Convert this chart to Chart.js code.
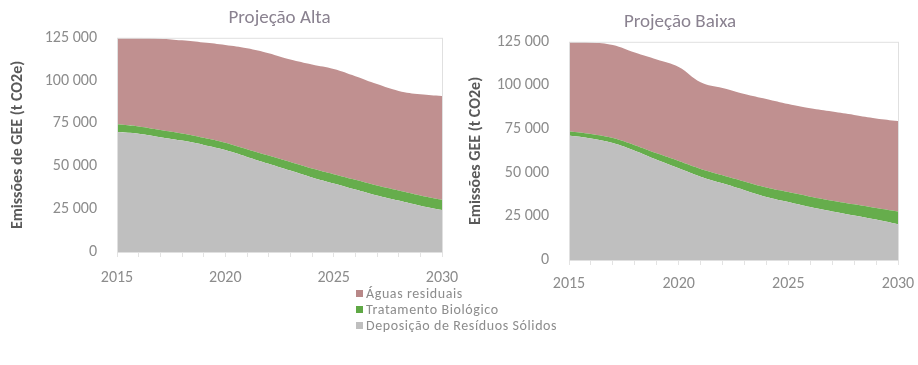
<!DOCTYPE html>
<html>
<head>
<meta charset="utf-8">
<script src="https://cdn.jsdelivr.net/npm/chart.js@4/dist/chart.umd.min.js"></script>
<style>
  body { margin: 0; background: #fff; font-family: Calibri, Carlito, "Liberation Sans", sans-serif; }
  #wrap { position: relative; width: 918px; height: 365px; overflow: hidden; }
  #cAlta { position: absolute; left: 0; top: 0; }
  #cBaixa { position: absolute; left: 455px; top: 4px; }
  #legend { position: absolute; left: 356px; top: 286px; font-size: 14px; letter-spacing: 0.6px; color: #8c8c8c; line-height: 16px; }
  #legend span.sw { display: inline-block; width: 7px; height: 7px; margin-right: 3px; vertical-align: 1px; }
</style>
</head>
<body>
<div id="wrap">
  <canvas id="cAlta" width="470" height="299"></canvas>
  <canvas id="cBaixa" width="463" height="305"></canvas>
  <div id="legend">
    <div><span class="sw" style="background:#b88888"></span>Águas residuais</div>
    <div><span class="sw" style="background:#5fa845"></span>Tratamento Biológico</div>
    <div><span class="sw" style="background:#bfbfbf"></span>Deposição de Resíduos Sólidos</div>
  </div>
</div>
<script>
// anos e séries (t CO2e)
const anos = ['2015','2016','2017','2018','2019','2020','2021','2022','2023','2024','2025','2026','2027','2028','2029','2030'];

const altaDeposicao = [70000, 69000, 67000, 65000, 62500, 59500, 55500, 51500, 47500, 43500, 40000, 36500, 33000, 30000, 27000, 24500];
const altaTratamento = [4500, 4300, 4200, 4200, 4200, 4300, 4500, 4800, 5000, 5200, 5400, 5600, 5800, 5900, 6000, 6000];
const altaAguas = [50500, 51700, 53300, 54300, 55500, 57000, 58900, 59700, 59800, 60700, 61400, 60500, 59200, 58100, 59000, 60500];

const baixaDeposicao = [71300, 69600, 67000, 62600, 57400, 52500, 47700, 43900, 40000, 36100, 33200, 30300, 27800, 25500, 23200, 20500];
const baixaTratamento = [2500, 2600, 2900, 3200, 3700, 4200, 4500, 4700, 5000, 5400, 5700, 6000, 6200, 6400, 6600, 7300];
const baixaAguas = [51200, 52400, 53200, 53000, 53700, 53800, 49600, 49900, 50100, 50700, 50400, 50600, 51000, 51200, 51300, 51800];

const yTicks = [0, 25000, 50000, 75000, 100000, 125000];

Chart.defaults.font.family = 'Calibri, Carlito, "Liberation Sans", sans-serif';

function fmt(v) {
    return String(v).replace(/\B(?=(\d{3})+(?!\d))/g, ' ');
}

// moldura cinza clara da área do gráfico
const frame = {
    id: 'frame',
    afterDraw(chart) {
        const a = chart.chartArea, c = chart.ctx;
        c.save();
        c.strokeStyle = '#e0e0e0';
        c.lineWidth = 1;
        c.strokeRect(a.left + 0.5, a.top + 0.5, a.right - a.left, a.bottom - a.top);
        c.restore();
    }
};

function renderArea(ctx, titulo, yTitulo, dep, trat, aguas, lay) {
    return new Chart(ctx, {
        type: 'line',
        data: {
            labels: anos,
            datasets: [
                { label: 'Deposição de Resíduos Sólidos', data: dep, backgroundColor: '#bfbfbf', fill: 'origin' },
                { label: 'Tratamento Biológico', data: trat, backgroundColor: '#66ad4c', fill: '-1' },
                { label: 'Águas residuais', data: aguas, backgroundColor: '#c09090', fill: '-1' }
            ]
        },
        options: {
            responsive: false,
            animation: false,
            elements: {
                point: { radius: 0 },
                line: { borderWidth: 0, tension: 0.4 }
            },
            layout: { padding: { left: lay.left, right: lay.right, top: 0, bottom: 0 } },
            plugins: {
                legend: { display: false },
                tooltip: { enabled: false },
                title: {
                    display: true,
                    text: titulo,
                    fullSize: lay.fullTitle,
                    color: '#8a8290',
                    font: { size: 19, weight: 'normal' },
                    padding: { top: 7, bottom: 8 }
                }
            },
            scales: {
                x: {
                    afterFit: function(s) { s.height = lay.xHeight; s.paddingLeft = 0; s.paddingRight = 0; },
                    ticks: {
                        autoSkip: false,
                        maxRotation: 0,
                        color: '#8c8c8c',
                        padding: lay.xPad,
                        font: { size: 16 },
                        callback: function(v, i) { return i % 5 === 0 ? anos[i] : ''; }
                    },
                    grid: { drawOnChartArea: false, color: '#e3e3e3', tickLength: 5 },
                    border: { color: '#d9d9d9' }
                },
                y: {
                    stacked: true,
                    min: 0,
                    max: 125000,
                    afterBuildTicks: function(s) { s.ticks = yTicks.map(v => ({ value: v })); },
                    afterFit: function(s) { s.width = lay.yWidth; },
                    ticks: { color: '#8c8c8c', padding: 12, font: { size: 16 }, callback: v => fmt(v) },
                    grid: { display: false },
                    border: { display: false },
                    title: {
                        display: true,
                        text: yTitulo,
                        color: '#595959',
                        font: { size: 16, weight: 'bold' }
                    }
                }
            }
        },
        plugins: [frame]
    });
}

renderArea(document.getElementById('cAlta'), 'Projeção Alta', 'Emissões de GEE (t CO2e)',
    altaDeposicao, altaTratamento, altaAguas,
    { left: 4, right: 28, yWidth: 113, xHeight: 47, xPad: 11, fullTitle: false });
renderArea(document.getElementById('cBaixa'), 'Projeção Baixa', 'Emissões GEE (t CO2e)',
    baixaDeposicao, baixaTratamento, baixaAguas,
    { left: 7, right: 20, yWidth: 107, xHeight: 49, xPad: 9, fullTitle: true });
</script>
</body>
</html>
